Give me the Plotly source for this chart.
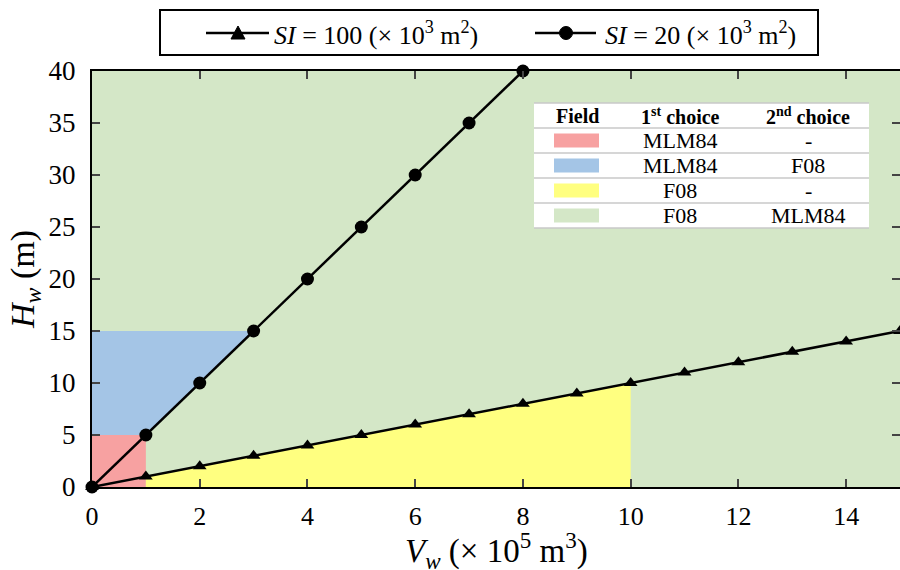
import plotly.graph_objects as go

# Data
si100_x = [0, 1, 2, 3, 4, 5, 6, 7, 8, 9, 10, 11, 12, 13, 14, 15]
si100_y = [0, 1, 2, 3, 4, 5, 6, 7, 8, 9, 10, 11, 12, 13, 14, 15]
si20_x = [0, 1, 2, 3, 4, 5, 6, 7, 8]
si20_y = [0, 5, 10, 15, 20, 25, 30, 35, 40]

red_x = [0, 1, 1, 0]
red_y = [0, 0, 5, 5]
blue_x = [0, 1, 3, 0]
blue_y = [5, 5, 15, 15]
yellow_x = [1, 1, 10, 10]
yellow_y = [0, 1, 10, 0]

series_names = ["<i>SI</i> = 100 (× 10<sup>3</sup> m<sup>2</sup>)", "<i>SI</i> = 20 (× 10<sup>3</sup> m<sup>2</sup>)"]
table_header = ["<b>Field</b>", "<b>1<sup>st</sup> choice</b>", "<b>2<sup>nd</sup> choice</b>"]
table_colors = ["#f7a1a1", "#a4c5e6", "#ffff80", "#d4e7c7"]
table_first = ["MLM84", "MLM84", "F08", "F08"]
table_second = ["-", "F08", "-", "MLM84"]

FONT = "Liberation Serif"
green = "#d4e7c7"

fig = go.Figure()
for xs, ys, c in [(red_x, red_y, "#f7a1a1"), (blue_x, blue_y, "#a4c5e6"), (yellow_x, yellow_y, "#ffff80")]:
    fig.add_trace(go.Scatter(x=xs, y=ys, fill="toself", fillcolor=c, mode="none",
                             showlegend=False, hoverinfo="skip"))

fig.add_trace(go.Scatter(x=si100_x, y=si100_y, mode="lines+markers",
                         line=dict(color="black", width=2.5),
                         marker=dict(symbol="triangle-up", size=12, color="black"),
                         name=series_names[0], showlegend=False, cliponaxis=False))
fig.add_trace(go.Scatter(x=si20_x, y=si20_y, mode="lines+markers",
                         line=dict(color="black", width=2.5),
                         marker=dict(symbol="circle", size=13, color="black"),
                         name=series_names[1], showlegend=False, cliponaxis=False))

W, H = 900, 570
vl, vr, vt, vb = 92, 900, 71, 487
L, R, T, B = vl, W - vr, vt, H - vb
pw, ph = W - L - R, H - T - B

def px(x):
    return (x - L) / pw

def py(y):
    return (H - B - y) / ph

# legend (drawn manually)
fig.add_shape(type="rect", xref="paper", yref="paper", x0=px(160), x1=px(818), y0=py(55), y1=py(10),
              fillcolor="white", line=dict(color="black", width=2), layer="below")
ly = 33
leg_items = [(206, 269, 238, "tri", 272), (535, 596, 566, "circ", 603)]
for i, (x0, x1, cx, kind, tx) in enumerate(leg_items):
    fig.add_shape(type="line", xref="paper", yref="paper", x0=px(x0), x1=px(x1), y0=py(ly), y1=py(ly),
                  line=dict(color="black", width=2.5))
    if kind == "tri":
        path = "M {},{} L {},{} L {},{} Z".format(px(cx - 7), py(ly + 6), px(cx + 7), py(ly + 6), px(cx), py(ly - 7))
        fig.add_shape(type="path", xref="paper", yref="paper", path=path, fillcolor="black",
                      line=dict(color="black", width=1))
    else:
        fig.add_shape(type="circle", xref="paper", yref="paper", x0=px(cx - 6.5), x1=px(cx + 6.5),
                      y0=py(ly + 6.5), y1=py(ly - 6.5), fillcolor="black", line=dict(color="black", width=1))
    fig.add_annotation(x=px(tx), y=py(ly), xref="paper", yref="paper", xanchor="left", yanchor="middle",
                       text=series_names[i], showarrow=False, font=dict(family=FONT, size=26, color="black"))

# table
tl, tr = 534, 869
rows_y = [103, 128, 153, 178, 203, 228]
fig.add_shape(type="rect", xref="paper", yref="paper", x0=px(tl), x1=px(tr),
              y0=py(rows_y[-1]), y1=py(rows_y[0]), fillcolor="white", line=dict(width=0), layer="above")
for yy in rows_y:
    fig.add_shape(type="line", xref="paper", yref="paper", x0=px(tl), x1=px(tr),
                  y0=py(yy), y1=py(yy), line=dict(color="#c8c8c8", width=1.5), layer="above")
col_c = [577, 680, 808]
for i, h in enumerate(table_header):
    fig.add_annotation(x=px(col_c[i]), y=py((rows_y[0] + rows_y[1]) / 2), xref="paper", yref="paper",
                       xanchor="center", yanchor="middle",
                       text=h, showarrow=False, font=dict(family=FONT, size=20, color="black"))
for r in range(4):
    yc = (rows_y[r + 1] + rows_y[r + 2]) / 2
    fig.add_shape(type="rect", xref="paper", yref="paper", x0=px(554), x1=px(599),
                  y0=py(yc + 7), y1=py(yc - 7), fillcolor=table_colors[r], line=dict(width=0), layer="above")
    fig.add_annotation(x=px(col_c[1]), y=py(yc), xref="paper", yref="paper", text=table_first[r],
                       xanchor="center", yanchor="middle",
                       showarrow=False, font=dict(family=FONT, size=22, color="black"))
    fig.add_annotation(x=px(col_c[2]), y=py(yc), xref="paper", yref="paper", text=table_second[r],
                       xanchor="center", yanchor="middle",
                       showarrow=False, font=dict(family=FONT, size=22, color="black"))

# axis titles
fig.add_annotation(x=px(496), y=py(550), xref="paper", yref="paper", xanchor="center", yanchor="middle",
                   text="<i>V<sub>w</sub></i> (× 10<sup>5</sup> m<sup>3</sup>)", showarrow=False,
                   font=dict(family=FONT, size=33, color="black"))
fig.add_annotation(x=px(25), y=py(280), xref="paper", yref="paper", xanchor="center", yanchor="middle",
                   text="<i>H<sub>w</sub></i> (m)", showarrow=False, textangle=-90,
                   font=dict(family=FONT, size=34, color="black"))

fig.update_layout(
    width=W, height=H,
    margin=dict(l=L, r=R, t=T, b=B, autoexpand=False),
    paper_bgcolor="white", plot_bgcolor=green,
    font=dict(family=FONT, size=26, color="black"),
    showlegend=False,
    xaxis=dict(range=[0, 15], tickvals=[0, 2, 4, 6, 8, 10, 12, 14], ticks="inside", ticklen=8,
               tickwidth=2, showline=True, linecolor="black", linewidth=2, mirror="ticks",
               showgrid=False, zeroline=False, ticklabelstandoff=5, tickfont=dict(size=26)),
    yaxis=dict(range=[0, 40], tickvals=[0, 5, 10, 15, 20, 25, 30, 35, 40], ticks="inside", ticklen=8,
               tickwidth=2, showline=True, linecolor="black", linewidth=2, mirror="ticks",
               showgrid=False, zeroline=False, ticklabelstandoff=9, tickfont=dict(size=27)),
)

fig.write_html("out.html", config={"displayModeBar": False},
               post_script="document.body.style.margin='0px';document.body.style.overflow='hidden';")
